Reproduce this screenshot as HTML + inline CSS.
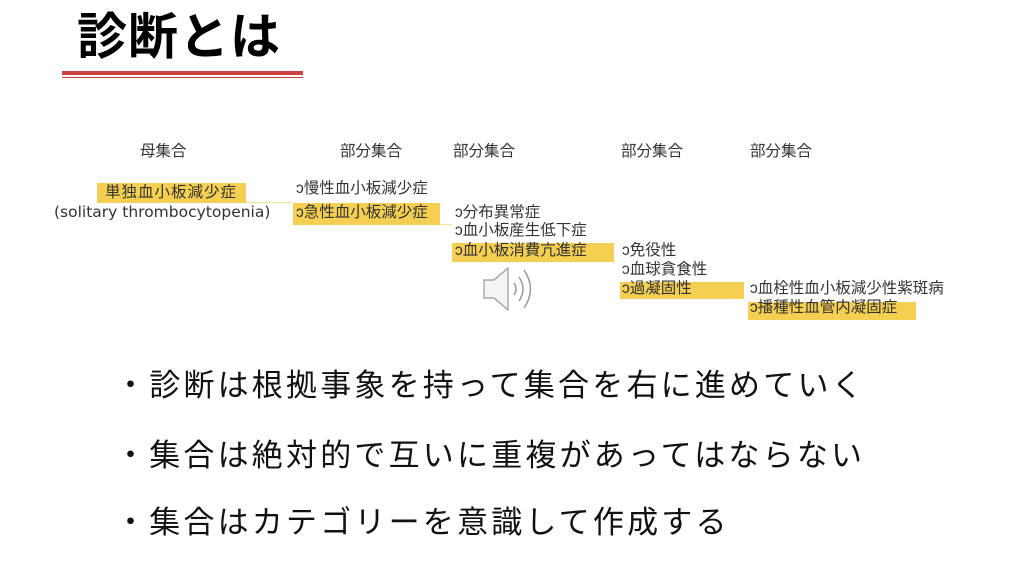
<!DOCTYPE html>
<html><head><meta charset="utf-8">
<style>
body{margin:0;width:1024px;height:576px;background:#fff;position:relative;overflow:hidden;font-family:"Liberation Sans","Noto Sans CJK JP",sans-serif;color:#222}
.a{position:absolute;white-space:nowrap}
.s{font-size:15.5px;line-height:19px;color:#333}
.hl{position:absolute;background:#f5cf52}
.b{font-size:31px;letter-spacing:3.2px;color:#111;line-height:40px}
</style></head><body>
<div class="a" style="left:77px;top:5px;font-size:50px;font-weight:bold;line-height:64px;color:#000;letter-spacing:1px">診断とは</div>
<div class="a" style="left:62px;top:71px;width:241px;height:4px;background:#d04040"></div>
<div class="a" style="left:62px;top:77px;width:241px;height:1px;background:#d04040"></div>

<div class="a s" style="left:140px;top:142px">母集合</div>
<div class="a s" style="left:340px;top:142px">部分集合</div>
<div class="a s" style="left:453px;top:142px">部分集合</div>
<div class="a s" style="left:621px;top:142px">部分集合</div>
<div class="a s" style="left:750px;top:142px">部分集合</div>

<div class="hl" style="left:97px;top:183px;width:149px;height:20px"></div>
<div class="hl" style="left:293px;top:203px;width:147px;height:22px"></div>
<div class="hl" style="left:452px;top:243px;width:162px;height:19px"></div>
<div class="hl" style="left:620px;top:282px;width:124px;height:17px"></div>
<div class="hl" style="left:748px;top:302px;width:168px;height:18px"></div>
<div class="a" style="left:246px;top:202px;width:47px;height:1px;background:#f3e2a0"></div>
<div class="a" style="left:440px;top:224px;width:12px;height:1px;background:#f3e2a0"></div>

<div class="a s" style="left:105px;top:183px;letter-spacing:1px">単独血小板減少症</div>
<div class="a s" style="left:54px;top:203px;font-family:'DejaVu Sans',sans-serif;font-size:15.5px">(solitary thrombocytopenia)</div>
<div class="a s" style="left:296px;top:179px">ↄ慢性血小板減少症</div>
<div class="a s" style="left:296px;top:203px">ↄ急性血小板減少症</div>
<div class="a s" style="left:455px;top:203px">ↄ分布異常症</div>
<div class="a s" style="left:455px;top:221px">ↄ血小板産生低下症</div>
<div class="a s" style="left:455px;top:241px">ↄ血小板消費亢進症</div>
<div class="a s" style="left:622px;top:241px">ↄ免役性</div>
<div class="a s" style="left:622px;top:260px">ↄ血球貪食性</div>
<div class="a s" style="left:622px;top:279px">ↄ過凝固性</div>
<div class="a s" style="left:750px;top:279px;width:205px;overflow:hidden">ↄ血栓性血小板減少性紫斑病</div>
<div class="a s" style="left:750px;top:298px">ↄ播種性血管内凝固症</div>

<svg class="a" style="left:482px;top:265px" width="58" height="48" viewBox="0 0 58 48">
<path d="M2 15 H12 L26 3 V45 L12 33 H2 Z" fill="#f4f4f4" stroke="#999" stroke-width="1.2"/>
<path d="M32 18 Q36 24 32 30" fill="none" stroke="#999" stroke-width="1.5"/>
<path d="M37 12 Q45 24 37 36" fill="none" stroke="#999" stroke-width="1.5"/>
<path d="M42 5 Q55 24 42 43" fill="none" stroke="#999" stroke-width="1.5"/>
</svg>

<div class="a b" style="left:115px;top:366px">・診断は根拠事象を持って集合を右に進めていく</div>
<div class="a b" style="left:115px;top:436px">・集合は絶対的で互いに重複があってはならない</div>
<div class="a b" style="left:115px;top:503px">・集合はカテゴリーを意識して作成する</div>
</body></html>
